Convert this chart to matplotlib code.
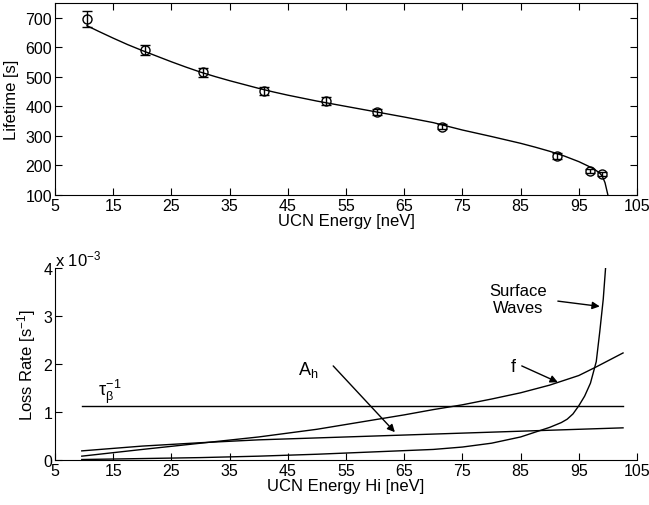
import matplotlib
matplotlib.use('Agg')
import matplotlib.pyplot as plt

plt.rcParams['font.family'] = ['Liberation Sans', 'DejaVu Sans']
plt.rcParams['font.size'] = 12
plt.rcParams['mathtext.fontset'] = 'custom'
plt.rcParams['mathtext.rm'] = 'Liberation Sans'
plt.rcParams['mathtext.it'] = 'Liberation Sans'

# measured lifetimes
energy = [10.5, 20.5, 30.4, 40.9, 51.6, 60.4, 71.5, 91.3, 96.9, 99.0]
lifetime = [697, 591, 516, 452, 419, 381, 331, 232, 181, 171]
lifetime_err = [27, 17, 15, 14, 13, 10, 9, 9, 7, 7]

# fitted curve
fit_e = [10.5, 12.5, 15, 17.5, 20, 22.5, 25, 27.5, 30, 32.5, 35, 37.5, 40, 42.5,
         45, 47.5, 50, 52.5, 55, 57.5, 60, 65, 70, 75, 80, 85, 87.5, 90, 92.5,
         95, 96.5, 97.5, 98.5, 99, 99.5, 100]
fit_tau = [673, 654, 631, 609, 589, 570, 551, 533, 516, 501, 487, 474, 461, 449,
           438, 428, 418, 409, 400, 391, 382, 364, 345, 320, 298, 275, 262, 248,
           232, 213, 199, 189, 176, 165, 142, 100]

# loss rates, units of 1e-3 s^-1
tau_e = [9.6, 102.6]
tau_rate = [1.125, 1.125]
f_e = [9.6, 20, 30, 40, 50, 55, 60, 65, 70, 75, 80, 85, 90, 95, 98, 102.6]
f_rate = [0.08, 0.22, 0.35, 0.48, 0.64, 0.74, 0.84, 0.94, 1.05, 1.15, 1.27, 1.40,
          1.56, 1.76, 1.94, 2.23]
ah_e = [9.6, 20, 30, 40, 50, 60, 70, 80, 90, 102.6]
ah_rate = [0.19, 0.29, 0.36, 0.42, 0.46, 0.50, 0.54, 0.58, 0.62, 0.67]
sw_e = [9.6, 20, 30, 40, 50, 60, 70, 75, 80, 85, 88, 90, 92, 93, 94, 95, 96, 97,
        98, 98.6, 99.2, 99.6]
sw_rate = [0.01, 0.03, 0.05, 0.08, 0.12, 0.17, 0.22, 0.27, 0.35, 0.48, 0.60, 0.68,
           0.78, 0.85, 0.96, 1.13, 1.33, 1.60, 2.05, 2.67, 3.35, 4.0]

xticks = [5, 15, 25, 35, 45, 55, 65, 75, 85, 95, 105]

fig = plt.figure(figsize=(6.49, 5.06), dpi=100)
W, H = 649, 506
ax1 = fig.add_axes([55 / W, 1 - 196 / H, 582 / W, 192 / H])
ax2 = fig.add_axes([55 / W, 1 - 461 / H, 582 / W, 192 / H])

lw = 1.0
# top panel
ax1.plot(fit_e, fit_tau, color='black', lw=lw)
ax1.errorbar(energy, lifetime, yerr=lifetime_err, fmt='o', mfc='none', mec='black',
             ms=6.5, mew=1.0, ecolor='black', elinewidth=lw, capsize=3.5, capthick=lw)
ax1.set_xlim(5, 105)
ax1.set_ylim(100, 750)
ax1.set_xticks(xticks)
ax1.set_yticks([100, 200, 300, 400, 500, 600, 700])
ax1.tick_params(direction='in', top=True, right=True, length=5, labelsize=11.5,
                width=0.8, pad=2)
ax1.set_xlabel('UCN Energy [neV]', labelpad=0)
ax1.set_ylabel('Lifetime [s]')
ax1.yaxis.set_label_coords(-0.061, 0.5)

# bottom panel
ax2.plot(tau_e, tau_rate, color='black', lw=lw)
ax2.plot(f_e, f_rate, color='black', lw=lw)
ax2.plot(ah_e, ah_rate, color='black', lw=lw)
ax2.plot(sw_e, sw_rate, color='black', lw=lw)
ax2.set_xlim(5, 105)
ax2.set_ylim(0, 4)
ax2.set_xticks(xticks)
ax2.set_yticks([0, 1, 2, 3, 4])
ax2.spines['top'].set_visible(False)
ax2.spines['right'].set_visible(False)
ax2.tick_params(direction='in', length=5, labelsize=11.5, width=0.8, pad=2)
ax2.set_xlabel('UCN Energy Hi [neV]', labelpad=0)
ax2.set_ylabel('Loss Rate [s$^{-1}$]')
ax2.yaxis.set_label_coords(-0.029, 0.5)
ax2.text(0.0, 1.0, 'x 10$^{-3}$', transform=ax2.transAxes, ha='left', va='bottom',
         fontsize=12)

arrow = dict(arrowstyle='-|>', color='black', lw=1.0, mutation_scale=11,
             shrinkA=0, shrinkB=0)
ax2.text(14.5, 1.45, r'$\tau_{\beta}^{-1}$', fontsize=13, ha='center', va='center')
ax2.text(48.5, 1.9, 'A$_{\\mathrm{h}}$', fontsize=13, ha='center', va='center')
ax2.annotate('', xy=(63.4, 0.58), xytext=(52.8, 1.96), arrowprops=arrow)
ax2.text(83.7, 1.94, 'f', fontsize=13, ha='center', va='center')
ax2.annotate('', xy=(91.4, 1.62), xytext=(85.2, 1.96), arrowprops=arrow)
ax2.text(84.6, 3.35, 'Surface\nWaves', fontsize=12, ha='center', va='center',
         linespacing=1.15)
ax2.annotate('', xy=(98.6, 3.2), xytext=(91.4, 3.31), arrowprops=arrow)

fig.savefig('out.png', dpi=100)
